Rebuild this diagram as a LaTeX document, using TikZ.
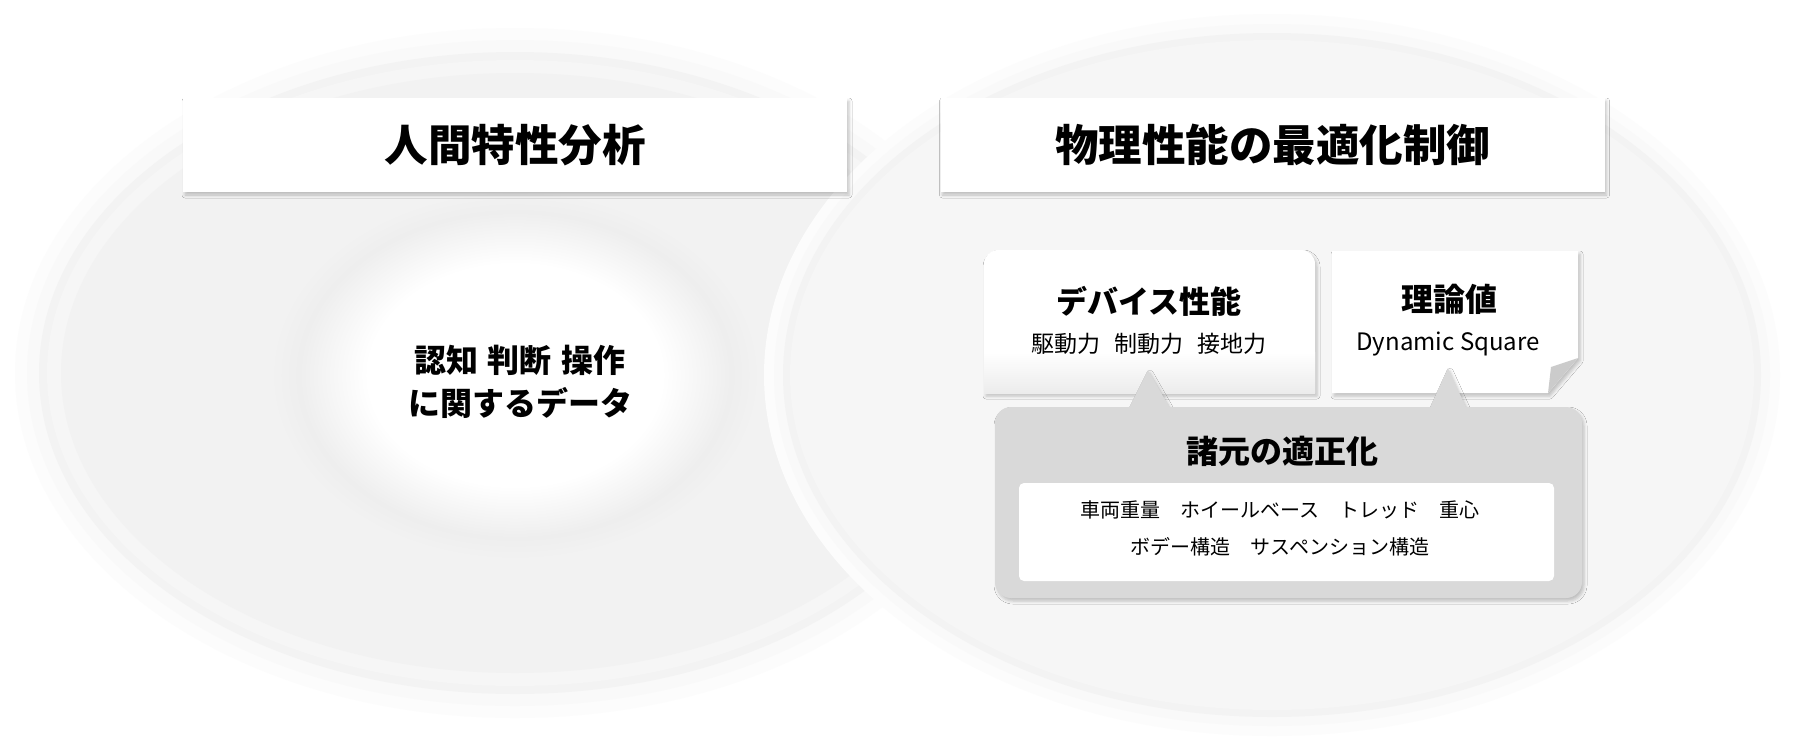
\documentclass[tikz,border=0pt]{standalone}
\usepackage{fontspec}
\setmainfont{Noto Sans CJK JP}
\usetikzlibrary{shadows.blur}

\definecolor{lobeL}{HTML}{F2F2F2}
\definecolor{lobeR}{HTML}{F6F6F6}
\definecolor{ringA}{HTML}{FCFCFC}
\definecolor{ringB}{HTML}{F9F9F9}
\definecolor{ringC}{HTML}{F3F3F3}
\definecolor{ringD}{HTML}{F6F6F6}
\definecolor{blobrim}{HTML}{EEEEEE}
\definecolor{fadeG}{HTML}{ECECEC}
\definecolor{calloutG}{HTML}{D9D9D9}
\definecolor{foldG}{HTML}{CBCBCB}
\pgfdeclareradialshading{blobshade}{\pgfpoint{0bp}{0bp}}{color(0bp)=(white); color(15bp)=(white); color(22bp)=(blobrim); color(25bp)=(lobeL); color(50bp)=(lobeL)}

\begin{document}
\begin{tikzpicture}[x=1pt,y=-1pt,
    every node/.style={inner sep=0pt},
    boxshadow/.style={blur shadow={shadow xshift=2pt,shadow yshift=-3pt,shadow blur radius=3pt,shadow opacity=22}},
    titlebox/.style={fill=white,minimum width=664pt,minimum height=94pt,boxshadow,
        font=\fontsize{43.5}{50}\selectfont\bfseries},
    bigtext/.style={font=\fontsize{32}{43}\selectfont\bfseries},
    subtext/.style={font=\fontsize{23}{28}\selectfont},
    itemtext/.style={font=\fontsize{20}{37}\selectfont}]

    \fill[white] (0,0) rectangle (1796,740);
    \useasboundingbox (0,0) rectangle (1796,740);

    \foreach \rx/\ry/\c in {500/345/ringA,488/333/ringB,476/321/ringC,468/313/ringD,454/300/lobeL}
        \fill[\c] (515,373) ellipse (\rx pt and \ry pt);
    \shade[shading=blobshade] (515,375) ellipse (245pt and 185pt);

    \foreach \rx/\ry/\c in {508/361/ringA,498/351/ringB,489/342/ringC,482/335/lobeR}
        \fill[\c] (1272,375) ellipse (\rx pt and \ry pt);

    \node[titlebox] (human) at (515,145) {人間特性分析};
    \node[titlebox] (physics) at (1272.5,145) {物理性能の最適化制御};

    \path[fill=white,boxshadow] (984,393) [rounded corners=14pt] -- (984,250) -- (1315,250) [sharp corners] -- (1315,393) -- cycle;
    \shade[top color=white,bottom color=fadeG] (984,352) rectangle (1315,393);

    \path[fill=white,boxshadow] (1332,251) -- (1578,251) -- (1578,358) -- (1548,393) -- (1332,393) -- cycle;
    \fill[foldG] (1578,358) -- (1551,367) -- (1548,393) -- cycle;

    \path[fill=calloutG,boxshadow] (1127,412) -- (1148,370) -- (1172,412) -- cycle;
    \path[fill=calloutG,boxshadow] (1428,412) -- (1448,368) -- (1468,412) -- cycle;
    \path[fill=calloutG,boxshadow,rounded corners=16pt] (995,407) rectangle (1582,598);
    \fill[white,rounded corners=5pt] (1019,483) rectangle (1554,581);

    \node[bigtext,align=center] (hmdata) at (520,382) {認知\hspace{10pt}判断\hspace{10pt}操作\\に関するデータ};

    \node[font=\fontsize{31}{36}\selectfont\bfseries] (device) at (1149,301) {デバイス性能};
    \node[subtext] (forces) at (1149,344) {駆動力\hspace{14pt}制動力\hspace{14pt}接地力};

    \node[bigtext] (theory) at (1449,299) {理論値};
    \node[font=\fontsize{24}{28}\selectfont] (dsquare) at (1448,344) {Dynamic Square};

    \node[bigtext] (specs) at (1282,451) {諸元の適正化};
    \node[itemtext,align=center] (items) at (1280,528) {車両重量　ホイールベース　トレッド　重心\\ボデー構造　サスペンション構造};
\end{tikzpicture}
\end{document}
